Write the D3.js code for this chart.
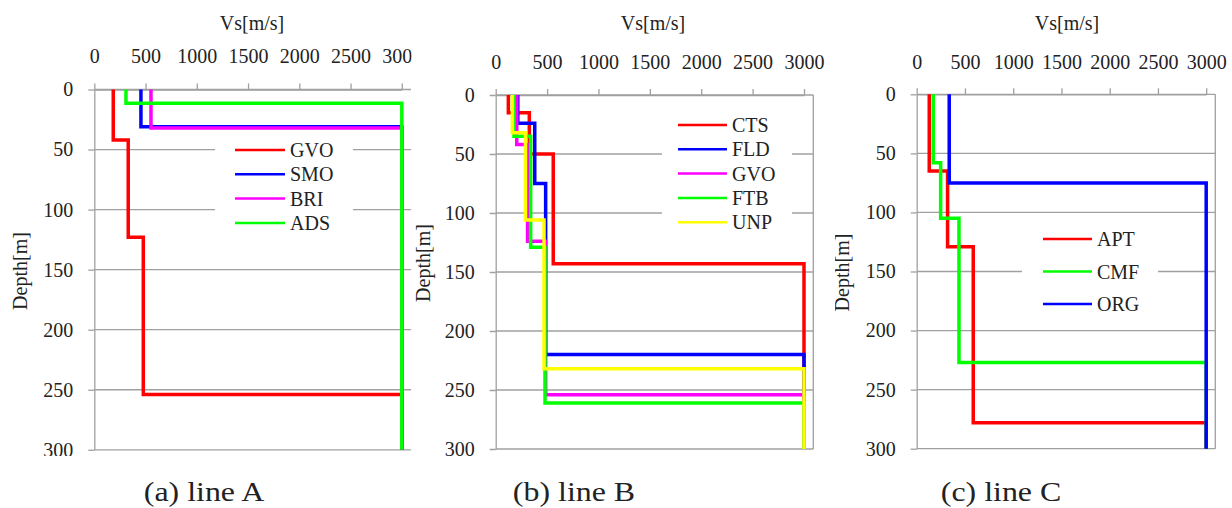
<!DOCTYPE html>
<html>
<head>
<meta charset="utf-8">
<script src="https://cdn.jsdelivr.net/npm/d3@7"></script>
<style>
  body { margin: 0; background: #fff; }
  svg text { font-family: "Liberation Serif", "Times New Roman", serif; fill: #222; }
</style>
</head>
<body>
<svg id="profiles" width="1232" height="508"></svg>
<script>
// axis ticks shared by all three panels
var velTicks = [0, 500, 1000, 1500, 2000, 2500, 3000];
var depthTicks = [0, 50, 100, 150, 200, 250, 300];

// line A : Vs of each layer and depth of layer bottom
var lineANames = ["GVO", "SMO", "BRI", "ADS"];
var lineAVs = [[185, 331, 478, 3000], [455, 3000], [553, 3000], [309, 3000]];
var lineADepth = [[42, 123, 254, 300], [31, 300], [32, 300], [11.5, 300]];

// line B
var lineBNames = ["CTS", "FLD", "GVO", "FTB", "UNP"];
var lineBVs = [[123, 327, 560, 3000], [215, 380, 486, 3000], [205, 310, 486, 3000],
               [178, 340, 480, 3000], [162, 290, 470, 3000]];
var lineBDepth = [[15, 50, 143, 300], [24, 75, 220, 300], [42, 124, 254, 300],
                  [35, 129, 261, 300], [32, 106, 232, 300]];

// line C
var lineCNames = ["APT", "CMF", "ORG"];
var lineCVs = [[130, 320, 586, 3000], [172, 248, 438, 3000], [337, 3000]];
var lineCDepth = [[65, 129, 278, 300], [58, 105, 227, 300], [75, 300]];

var colorsA = ["#ff0000", "#0000ff", "#ff00ff", "#00ff00"];
var colorsB = ["#ff0000", "#0000ff", "#ff00ff", "#00ff00", "#ffff00"];
var colorsC = ["#ff0000", "#00ff00", "#0000ff"];

var gridColor = "#a0a0a0";

// each panel image is cropped in the original figure (clip box x0, x1)
var panels = [
  {names: lineANames, vs: lineAVs, depth: lineADepth, colors: colorsA,
   left: 94.3, x3000: 401.8, right: 411, top: 89.5, bottom: 449.8, border: false,
   clip: [0, 411.5], tickPad: 21, titleX: 252, depthLabel: [20.3, 271], caption: "(a) line A", capX: 204,
   legend: {x1: 235, x2: 285, y0: 150, dy: 24.3, box: [215, 135, 138, 100]}},
  {names: lineBNames, vs: lineBVs, depth: lineBDepth, colors: colorsB,
   left: 495.7, x3000: 804, right: 813.3, top: 95, bottom: 449, border: true,
   clip: [411.5, 835], tickPad: 20, titleX: 653, depthLabel: [423.3, 263], caption: "(b) line B", capX: 574,
   legend: {x1: 678, x2: 727, y0: 125, dy: 24.3, box: [662, 110, 130, 127]}},
  {names: lineCNames, vs: lineCVs, depth: lineCDepth, colors: colorsC,
   left: 916.7, x3000: 1206.2, right: 1215.3, top: 94.3, bottom: 448.7, border: true,
   clip: [835, 1232], tickPad: 19, titleX: 1067, depthLabel: [841.7, 272.5], caption: "(c) line C", capX: 1001,
   legend: {x1: 1043, x2: 1092, y0: 239, dy: 32.5, box: [1022, 222, 136, 98]}}
];

// turns layer values into the corner points of a step profile
function ProfilePoints(vs, depth)
{
  var pts = [[vs[0], 0]];
  for(var i = 0; i < vs.length; i++)
  {
    pts.push([vs[i], depth[i]]);
    if(i + 1 < vs.length)
    {
      pts.push([vs[i + 1], depth[i]]);
    }
  }
  return pts;
}

function DrawPanel(svg, p, k)
{
  var xScale = d3.scaleLinear().domain([0, 3000]).range([p.left, p.x3000]);
  var yScale = d3.scaleLinear().domain([0, 300]).range([p.top, p.bottom]);

  svg.append("clipPath")
     .attr("id", "crop" + k)
     .append("rect")
     .attr("x", p.clip[0]).attr("y", 0)
     .attr("width", p.clip[1] - p.clip[0]).attr("height", 456);

  var outer = svg.append("g");
  var g = outer.append("g").attr("clip-path", "url(#crop" + k + ")");

  // horizontal grid lines
  g.selectAll(".grid")
   .data(depthTicks)
   .enter().append("line")
   .attr("x1", p.left)
   .attr("x2", p.right)
   .attr("y1", function(d) {return yScale(d);})
   .attr("y2", function(d) {return yScale(d);})
   .attr("stroke", gridColor)
   .attr("stroke-width", 1.3);

  if(p.border)
  {
    g.append("line")
     .attr("x1", p.right).attr("x2", p.right)
     .attr("y1", p.top).attr("y2", p.bottom)
     .attr("stroke", gridColor)
     .attr("stroke-width", 1.3);
  }

  var xAxis = d3.axisTop(xScale).tickValues(velTicks).tickFormat(d3.format("d"))
                .tickSize(6).tickSizeOuter(0).tickPadding(p.tickPad);
  var yAxis = d3.axisLeft(yScale).tickValues(depthTicks).tickFormat(d3.format("d"))
                .tickSize(6).tickSizeOuter(0).tickPadding(15);

  var gx = g.append("g").attr("transform", "translate(0," + p.top + ")").call(xAxis);
  var gy = g.append("g").attr("transform", "translate(" + p.left + ",0)").call(yAxis);

  [gx, gy].forEach(function(ax)
  {
    ax.attr("font-family", null).attr("font-size", null);
    ax.select(".domain").attr("stroke", gridColor).attr("stroke-width", 1.3);
    ax.selectAll(".tick line").attr("stroke", gridColor).attr("stroke-width", 1.3);
    ax.selectAll(".tick text").style("font-size", "20px").attr("fill", "#222");
  });

  // white legend box sits on top of the grid
  var lg = p.legend;
  g.append("rect")
   .attr("x", lg.box[0]).attr("y", lg.box[1])
   .attr("width", lg.box[2]).attr("height", lg.box[3])
   .attr("fill", "#fff");

  var line = d3.line()
               .x(function(d) {return xScale(d[0]);})
               .y(function(d) {return yScale(d[1]);});

  p.names.forEach(function(name, i)
  {
    g.append("path")
     .attr("d", line(ProfilePoints(p.vs[i], p.depth[i])))
     .attr("fill", "none")
     .attr("stroke", p.colors[i])
     .attr("stroke-width", 3.5)
     .attr("stroke-linejoin", "miter");

    var ly = lg.y0 + i * lg.dy;
    g.append("line")
     .attr("x1", lg.x1).attr("x2", lg.x2)
     .attr("y1", ly).attr("y2", ly)
     .attr("stroke", p.colors[i])
     .attr("stroke-width", 2.5);
    g.append("text")
     .attr("x", lg.x2 + 5).attr("y", ly)
     .attr("dy", "0.35em")
     .style("font-size", "20px")
     .text(name);
  });

  // axis titles
  g.append("text")
   .attr("x", p.titleX).attr("y", 29.5)
   .attr("text-anchor", "middle")
   .style("font-size", "20px")
   .text("Vs[m/s]");

  g.append("text")
   .attr("transform", "translate(" + p.depthLabel[0] + "," + p.depthLabel[1] + ") rotate(-90)")
   .attr("text-anchor", "middle")
   .attr("dy", "0.35em")
   .style("font-size", "20px")
   .text("Depth[m]");

  // caption below the cropped picture
  outer.append("text")
   .attr("transform", "translate(" + p.capX + ",501) scale(1.14,1)")
   .attr("text-anchor", "middle")
   .style("font-size", "28px")
   .text(p.caption);
}

var svg = d3.select("#profiles");
panels.forEach(function(p, k) {DrawPanel(svg, p, k);});
</script>
</body>
</html>
